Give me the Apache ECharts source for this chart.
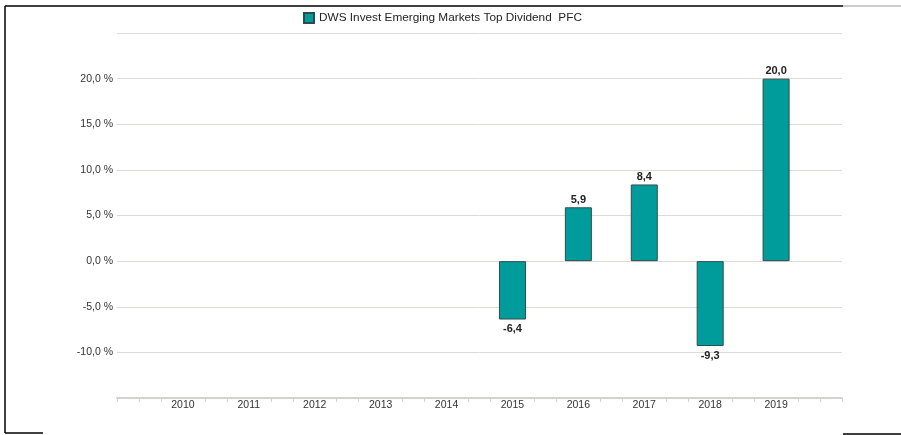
<!DOCTYPE html>
<html>
<head>
<meta charset="utf-8">
<script src="https://cdn.jsdelivr.net/npm/echarts@6/dist/echarts.min.js"></script>
<style>
    html, body { margin: 0; padding: 0; background: #fff; }
    #chart { width: 901px; height: 435px; }
</style>
</head>
<body>
<div id="chart"></div>
<script>
// years on the axis, first and last are unlabeled padding slots
var years = ['2009', '2010', '2011', '2012', '2013', '2014', '2015', '2016', '2017', '2018', '2019', '2020'];
var returns = [null, null, null, null, null, null, -6.4, 5.9, 8.4, -9.3, 20.0, null];
var seriesName = 'DWS Invest Emerging Markets Top Dividend  PFC';
var yTicks = [-15, -10, -5, 0, 5, 10, 15, 20, 25];
var shownYTicks = [-10, -5, 0, 5, 10, 15, 20];

var fmt = function (v) { return v.toFixed(1).replace('.', ','); };

// fine tick slots, three per year
var tickSlots = [];
for (var i = 0; i <= (years.length - 1) * 3; i++) tickSlots.push(String(i));

var chart = echarts.init(document.getElementById('chart'));

chart.setOption({
    animation: false,
    textStyle: { fontFamily: 'Liberation Sans, Arial, sans-serif' },
    legend: {
        data: [{ name: seriesName, icon: 'rect' }],
        left: 303,
        top: 12,
        padding: 0,
        itemWidth: 10,
        itemHeight: 10,
        textStyle: { fontSize: 11.8, color: '#222' }
    },
    grid: { left: 117, right: 59, top: 33, bottom: 37 },
    xAxis: [{
        type: 'category',
        data: years,
        boundaryGap: false,
        axisLine: { show: false },
        axisTick: { show: false },
        axisLabel: {
            margin: 2,
            fontSize: 10.5,
            color: '#333',
            interval: 0,
            formatter: function (v, idx) {
                return (idx === 0 || idx === years.length - 1) ? '' : v;
            }
        },
        splitLine: { show: false }
    }, {
        type: 'category',
        data: tickSlots,
        boundaryGap: false,
        position: 'bottom',
        axisLine: { show: true, lineStyle: { color: '#d6d3cd', width: 2 } },
        axisTick: {
            show: true,
            length: 4,
            lineStyle: { color: '#d6d3cd', width: 1 },
            interval: function (idx) {
                return idx % 3 !== 0 || idx === 0 || idx === tickSlots.length - 1;
            }
        },
        axisLabel: { show: false },
        splitLine: { show: false }
    }],
    yAxis: {
        type: 'value',
        min: yTicks[0],
        max: yTicks[yTicks.length - 1],
        interval: 5,
        axisLine: { show: false },
        axisTick: { show: false },
        axisLabel: {
            margin: 4,
            fontSize: 10.5,
            color: '#333',
            formatter: function (v) {
                return shownYTicks.indexOf(v) >= 0 ? fmt(v) + ' %' : '';
            }
        },
        splitLine: { lineStyle: { color: '#dedbd6', width: 1 } }
    },
    series: [{
        name: seriesName,
        type: 'bar',
        xAxisIndex: 0,
        barWidth: 27,
        itemStyle: { color: '#009c9c', borderColor: '#2c4d4d', borderWidth: 1 },
        label: {
            show: true,
            fontSize: 11,
            fontWeight: 'bold',
            color: '#222',
            formatter: function (p) { return fmt(p.value); }
        },
        // negative bars get their label below
        data: returns.map(function (v) {
            if (v === null) return null;
            return {
                value: v,
                label: v < 0 ? { position: 'bottom', distance: 4 } : { position: 'top', distance: 2 }
            };
        })
    }],
    graphic: [
        { type: 'line', shape: { x1: 5, y1: 6, x2: 843, y2: 6 }, style: { stroke: '#000', lineWidth: 1.5 } },
        { type: 'line', shape: { x1: 843, y1: 6, x2: 901, y2: 6 }, style: { stroke: '#999', lineWidth: 1 } },
        { type: 'line', shape: { x1: 5, y1: 6, x2: 5, y2: 433 }, style: { stroke: '#000', lineWidth: 1.5 } },
        { type: 'line', shape: { x1: 5, y1: 433, x2: 43, y2: 433 }, style: { stroke: '#000', lineWidth: 1.5 } },
        { type: 'line', shape: { x1: 843, y1: 434, x2: 901, y2: 434 }, style: { stroke: '#000', lineWidth: 1.5 } }
    ]
});
</script>
</body>
</html>
